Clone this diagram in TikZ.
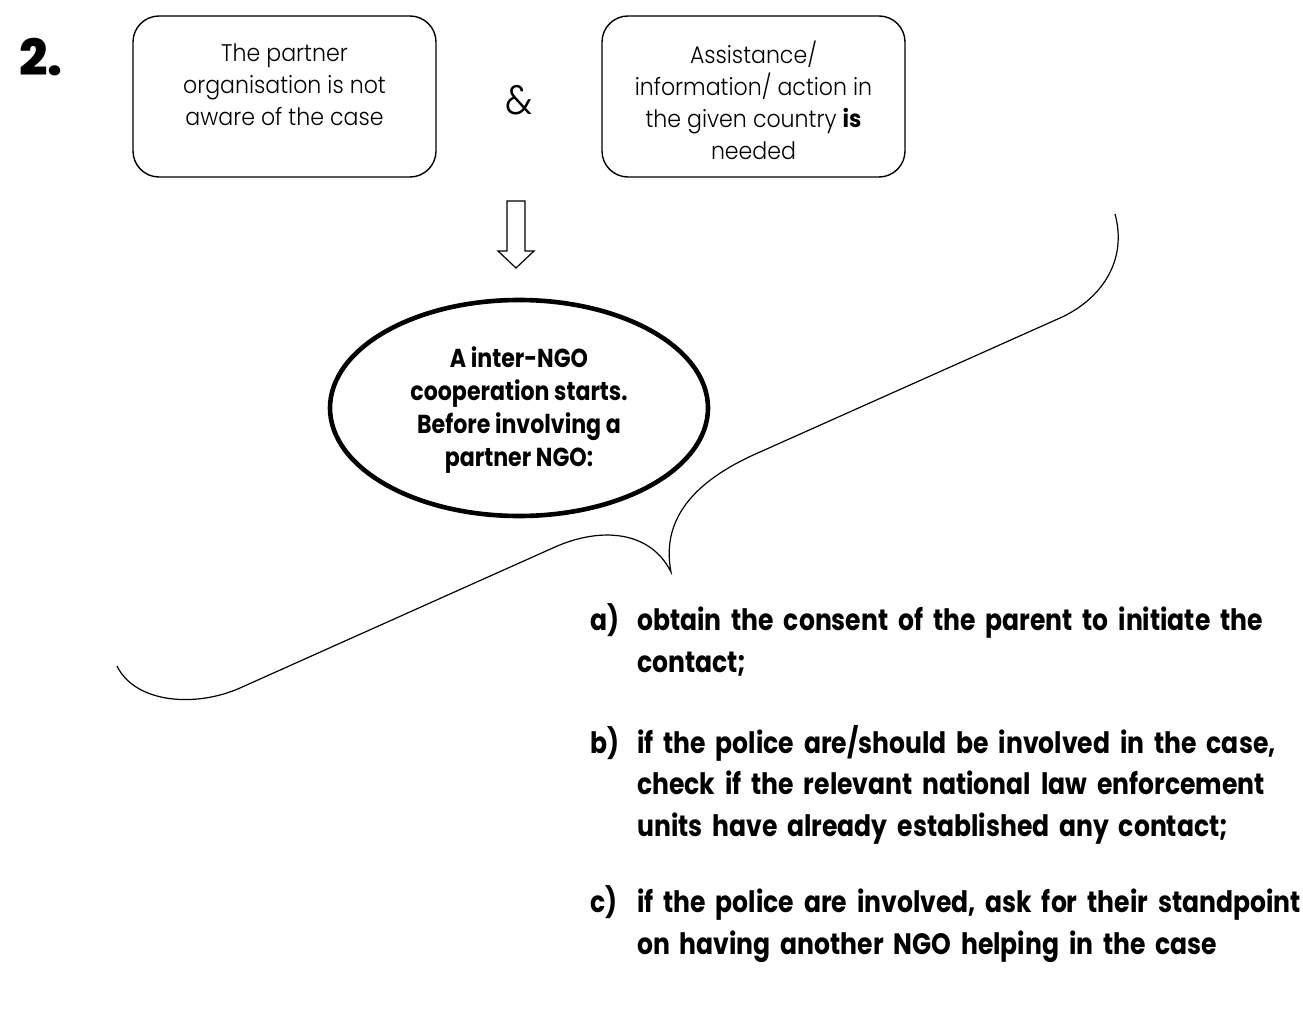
\documentclass[tikz,border=0pt]{standalone}
\usepackage{fontspec}
\setmainfont{Poppins}
\newfontfamily\lightf{Poppins Light}[BoldFont={Poppins Bold}, FakeStretch=0.92]
\newfontfamily\condb{Poppins Bold}[FakeStretch=0.85]
\newfontfamily\heavyf{Poppins ExtraBold}
\usetikzlibrary{shapes.geometric}
\newcommand{\myitemlabel}[1]{\makebox[47pt][l]{\smash{#1}}}
\newcommand{\myhang}{\hspace*{47pt}}
\begin{document}
\begin{tikzpicture}[x=1pt,y=-1pt,
  condbox/.style={draw, line width=1.4pt, rounded corners=26pt, minimum width=303pt, minimum height=161pt, inner sep=0pt},
  boxtext/.style={align=center, inner sep=0pt, font=\lightf\fontsize{24pt}{32pt}\selectfont},
  bubble/.style={ellipse, draw, line width=4.6pt, inner sep=0pt, minimum width=378pt, minimum height=216pt},
  bubbletext/.style={align=center, inner sep=0pt, font=\condb\fontsize{26pt}{33pt}\selectfont},
  itemtxt/.style={anchor=north west, inner sep=0pt, align=left, text width=712pt, font=\condb\fontsize{29.5pt}{41.5pt}\selectfont},
  brace/.style={draw, line width=1.2pt}]
\useasboundingbox (0,0) rectangle (1303,1035);

\node[font=\heavyf\fontsize{50pt}{50pt}\selectfont, inner sep=0pt] (num) at (41,57) {2.};

\node[condbox] (b1) at (284.5,96.5) {};
\node[boxtext] (t1) at (284.5,85) {The partner\\organisation is not\\aware of the case};

\node[font=\lightf\fontsize{41pt}{41pt}\selectfont, inner sep=0pt] (amp) at (519,100) {\&};

\node[condbox] (b2) at (753.5,96.5) {};
\node[boxtext] (t2) at (753.5,100) {Assistance/\\information/ action in\\the given country \textbf{is}\\needed};

\draw[line width=1.2pt, line join=miter] (507,201) -- (525,201) -- (525,251) -- (534,251) -- (516,268) -- (498,251) -- (507,251) -- cycle;

\node[bubble] (ell) at (519,408) {};
\node[bubbletext] (et) at (519,410) {A inter-NGO\\cooperation starts.\\Before involving a\\partner NGO:};

\coordinate (bl) at (117,666);
\coordinate (bt) at (671,572);
\coordinate (br) at (1115,214);
\draw[brace] (bl) .. controls (135,703) and (195,708) .. (240,688)
  -- (555,547) .. controls (600,527) and (650,530) .. (bt)
  .. controls (660,515) and (700,478) .. (760,452)
  -- (1060,318) .. controls (1100,300) and (1128,262) .. (br);

\node[itemtxt] (ia) at (590,607) {\myitemlabel{a)}obtain the consent of the parent to initiate the\\\myhang contact;};
\node[itemtxt] (ib) at (590,725) {\myitemlabel{b)}if the police are/should be involved in the case,\\\myhang check if the relevant national law enforcement\\\myhang units have already established any contact;};
\node[itemtxt] (ic) at (590,889) {\myitemlabel{c)}if the police are involved, ask for their standpoint\\\myhang on having another NGO helping in the case};
\end{tikzpicture}
\end{document}
